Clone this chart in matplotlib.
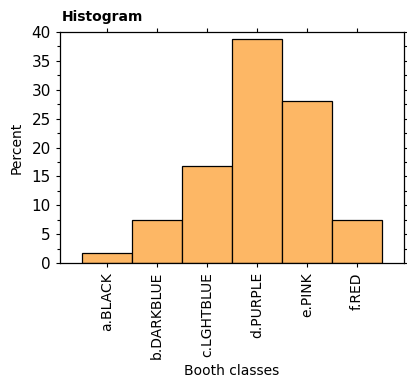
import matplotlib
matplotlib.use("Agg")
import numpy as np
from matplotlib import pyplot as plt
from matplotlib.ticker import MultipleLocator

# booth classes and the percent in each
classes = ["a.BLACK", "b.DARKBLUE", "c.LGHTBLUE", "d.PURPLE", "e.PINK", "f.RED"]
percent = [1.7, 7.5, 16.8, 38.8, 28.1, 7.5]

plt.rcParams["font.family"] = ["DejaVu Sans"]

fig = plt.figure(figsize=(4.07, 3.81), dpi=100)
ax = fig.add_axes([60 / 407, 1 - 263 / 381, 344 / 407, 231 / 381])

x = np.arange(len(classes))
ax.bar(x, percent, width=1.0, color="#FDB765", edgecolor="black", linewidth=0.9)

ax.set_xlim(-0.94, len(classes) - 0.06)
ax.set_ylim(0, 40)
ax.set_xticks(x)
ax.set_xticklabels(classes, rotation=90, fontsize=10)
ax.yaxis.set_major_locator(MultipleLocator(5))
ax.yaxis.set_minor_locator(MultipleLocator(2.5))
ax.tick_params(axis="y", labelsize=11)
ax.tick_params(which="both", direction="out", top=True, right=True, length=3, width=0.8)
ax.tick_params(which="minor", length=2)
ax.tick_params(axis="x", which="minor", bottom=False, top=False)

for s in ax.spines.values():
    s.set_linewidth(0.9)

ax.set_xlabel("Booth classes", fontsize=10, labelpad=3)
ax.set_ylabel("Percent", fontsize=10, labelpad=6)
fig.text(62 / 407, 1 - 17 / 381, "Histogram", fontsize=10, fontweight="bold",
         ha="left", va="center")

fig.savefig("out.png", dpi=100)
